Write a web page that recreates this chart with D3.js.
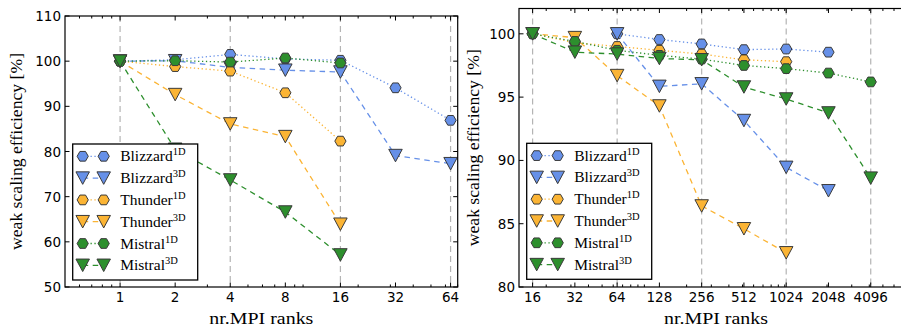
<!DOCTYPE html>
<html><head><meta charset="utf-8">
<script src="https://cdn.jsdelivr.net/npm/d3@7"></script>
<style>body{margin:0;background:#fff} svg{display:block} .serif{font-family:"Liberation Serif","DejaVu Serif",serif;}</style>
</head><body><svg id="c" width="901" height="327"></svg>
<script>
// ---------- data ----------
const leftBlizzardRanks = [1,2,4,8,16,32,64];
const leftOtherRanks    = [1,2,4,8,16];
const leftBlizzard1D = [100,100.3,101.5,100.5,100.2,94.1,86.9];
const leftBlizzard3D = [100,100.1,98.6,98.0,97.6,79.1,77.3];
const leftThunder1D  = [100,98.8,97.8,93.0,82.3];
const leftThunder3D  = [100,92.6,86.1,83.3,63.9];
const leftMistral1D  = [100,100.1,99.8,100.7,99.6];
const leftMistral3D  = [100,80.5,73.7,66.6,57.1];

const rightBlizzardRanks = [64,128,256,512,1024,2048];
const rightThunderRanks  = [16,32,64,128,256,512,1024];
const rightMistralRanks  = [16,32,64,128,256,512,1024,2048,4096];
const rightBlizzard1D = [100,99.55,99.2,98.75,98.8,98.55];
const rightBlizzard3D = [100,95.85,96.05,93.15,89.45,87.6];
const rightThunder1D  = [100,99.3,99.0,98.7,98.4,97.95,97.8];
const rightThunder3D  = [100,99.7,96.7,94.3,86.4,84.6,82.7];
const rightMistral1D  = [100,99.4,98.7,98.3,98.0,97.5,97.25,96.9,96.2];
const rightMistral3D  = [100,98.55,98.4,98.05,97.95,95.8,94.85,93.75,88.6];

const leftXTicks  = [1,2,4,8,16,32,64];
const leftGrid    = [1,4,16,64];
const leftYTicks  = [50,60,70,80,90,100,110];
const rightXTicks = [16,32,64,128,256,512,1024,2048,4096];
const rightGrid   = [16,64,256,1024,4096];
const rightYTicks = [80,85,90,95,100];

const seriesNames = ["Blizzard","Blizzard","Thunder","Thunder","Mistral","Mistral"];
const seriesDims  = ["1D","3D","1D","3D","1D","3D"];
const seriesColors = ["#6690e8","#6690e8","#fbb434","#fbb434","#2d8f2d","#2d8f2d"];

// ---------- helpers ----------
const svg = d3.select("#c");
const TICKFONT = "DejaVu Sans, sans-serif";

function hexPath(r){
  const pts=[];
  for(let k=0;k<6;k++){const a=k*Math.PI/3; pts.push([r*Math.cos(a), r*Math.sin(a)]);}
  return "M"+pts.map(p=>p[0].toFixed(2)+","+p[1].toFixed(2)).join("L")+"Z";
}
function triPath(w,h){
  return `M0,${h/2}L${-w/2},${-h/2}L${w/2},${-h/2}Z`;
}
const HEX = hexPath(5.6);
const TRI = triPath(13.5,12.5);

function minorTicks(domain){
  const out=[];
  for(let e=-2;e<5;e++){
    for(let m=1;m<10;m++){
      const v=m*Math.pow(10,e);
      if(v>domain[0]*1.0001 && v<domain[1]*1.0001){
        const l2=Math.log2(v);
        if(Math.abs(l2-Math.round(l2))>1e-9) out.push(v);
      }
    }
  }
  return out;
}

function panel(cfg){
  const {x0,x1,y0,y1,xdom,ydom,xticks,grid,yticks,series,legend,ylabX,xlabLen} = cfg;
  const x = d3.scaleLog().base(2).domain(xdom).range([x0,x1]);
  const y = d3.scaleLinear().domain(ydom).range([y1,y0]);
  const g = svg.append("g");
  const clipId = "clip"+Math.round(x0);
  svg.append("clipPath").attr("id",clipId).append("rect")
     .attr("x",x0).attr("y",y0).attr("width",x1-x0).attr("height",y1-y0);

  // grid
  g.append("g").selectAll("line").data(grid).join("line")
    .attr("x1",d=>x(d)).attr("x2",d=>x(d)).attr("y1",y0).attr("y2",y1)
    .attr("stroke","#b4b4b4").attr("stroke-width",1.2).attr("stroke-dasharray","6,4");

  // series
  const plot = g.append("g").attr("clip-path",`url(#${clipId})`);
  series.forEach((s,i)=>{
    const pts = s.xs.map((xv,j)=>[x(xv), y(s.ys[j])]);
    const dashed = seriesDims[i]==="3D";
    plot.append("path").attr("d", d3.line()(pts)).attr("fill","none")
      .attr("stroke",seriesColors[i]).attr("stroke-width",1.3)
      .attr("stroke-dasharray", dashed ? "5.5,4.5" : "1.3,2.6");
    plot.append("g").selectAll("path").data(pts).join("path")
      .attr("d", dashed ? TRI : HEX)
      .attr("transform",d=>`translate(${d[0]},${d[1]})`)
      .attr("fill",seriesColors[i]).attr("stroke","#3a3a3a").attr("stroke-width",1);
  });

  // frame
  g.append("rect").attr("x",x0).attr("y",y0).attr("width",x1-x0).attr("height",y1-y0)
    .attr("fill","none").attr("stroke","#000").attr("stroke-width",1.2);

  // ticks (inward, all sides)
  const tk = g.append("g").attr("stroke","#000").attr("stroke-width",1);
  xticks.forEach(t=>{
    tk.append("line").attr("x1",x(t)).attr("x2",x(t)).attr("y1",y1).attr("y2",y1-4.5);
    tk.append("line").attr("x1",x(t)).attr("x2",x(t)).attr("y1",y0).attr("y2",y0+4.5);
  });
  minorTicks(xdom).forEach(t=>{
    tk.append("line").attr("x1",x(t)).attr("x2",x(t)).attr("y1",y1).attr("y2",y1-2.5);
    tk.append("line").attr("x1",x(t)).attr("x2",x(t)).attr("y1",y0).attr("y2",y0+2.5);
  });
  yticks.forEach(t=>{
    tk.append("line").attr("x1",x0).attr("x2",x0+4.5).attr("y1",y(t)).attr("y2",y(t));
    tk.append("line").attr("x1",x1).attr("x2",x1-4.5).attr("y1",y(t)).attr("y2",y(t));
  });
  g.append("g").selectAll("text").data(xticks).join("text")
    .attr("x",d=>x(d)).attr("y",y1+14.5).attr("text-anchor","middle")
    .attr("font-family",TICKFONT).attr("font-size",13.5).text(d=>d);
  g.append("g").selectAll("text").data(yticks).join("text")
    .attr("x",x0-4).attr("y",d=>y(d)+5).attr("text-anchor","end")
    .attr("font-family",TICKFONT).attr("font-size",13.5).text(d=>d);

  // axis labels
  const xlab = g.append("text").attr("class","serif").attr("x",(x0+x1)/2).attr("y",323.5).attr("text-anchor","middle")
    .attr("font-size",16.5).text("nr.MPI ranks");
  if(xlabLen) xlab.attr("textLength",xlabLen).attr("lengthAdjust","spacingAndGlyphs");
  g.append("text").attr("class","serif").attr("transform",`translate(${ylabX},${(y0+y1)/2}) rotate(-90)`)
    .attr("text-anchor","middle").attr("font-size",16.5)
    .attr("textLength",197).attr("lengthAdjust","spacingAndGlyphs")
    .text("weak scaling efficiency [%]");

  // legend
  const L = g.append("g");
  L.append("rect").attr("x",legend.x).attr("y",legend.y).attr("width",125).attr("height",136)
    .attr("fill","#fff").attr("stroke","#000").attr("stroke-width",1.3);
  seriesNames.forEach((nm,i)=>{
    const ry = legend.y + 12.3 + i*21.8;
    const dashed = seriesDims[i]==="3D";
    const lx0 = legend.x+10, lx1 = legend.x+31;
    L.append("line").attr("x1",lx0).attr("x2",lx1).attr("y1",ry).attr("y2",ry)
      .attr("stroke",seriesColors[i]).attr("stroke-width",1.3)
      .attr("stroke-dasharray", dashed ? "5.5,4.5" : "1.3,2.6");
    [lx0,lx1].forEach(px=>{
      L.append("path").attr("d", dashed?TRI:HEX).attr("transform",`translate(${px},${ry})`)
        .attr("fill",seriesColors[i]).attr("stroke","#3a3a3a").attr("stroke-width",1);
    });
    const t = L.append("text").attr("class","serif").attr("x",legend.x+47.5).attr("y",ry+5)
      .attr("font-size",15.5);
    t.append("tspan").text(nm);
    t.append("tspan").attr("font-size",10.5).attr("dy",-6).text(seriesDims[i]);
  });
}

panel({
  x0:65, x1:457.7, y0:16, y1:287, xdom:[0.5,70], ydom:[50,110],
  xticks:leftXTicks, grid:leftGrid, yticks:leftYTicks, ylabX:22, xlabLen:104,
  legend:{x:72.7,y:144},
  series:[
    {xs:leftBlizzardRanks, ys:leftBlizzard1D},
    {xs:leftBlizzardRanks, ys:leftBlizzard3D},
    {xs:leftOtherRanks, ys:leftThunder1D},
    {xs:leftOtherRanks, ys:leftThunder3D},
    {xs:leftOtherRanks, ys:leftMistral1D},
    {xs:leftOtherRanks, ys:leftMistral3D}
  ]
});
panel({
  x0:519, x1:913, y0:8.5, y1:287, xdom:[12.8,8192], ydom:[80,102],
  xticks:rightXTicks, grid:rightGrid, yticks:rightYTicks, ylabX:479, xlabLen:104,
  legend:{x:526.7,y:143.3},
  series:[
    {xs:rightBlizzardRanks, ys:rightBlizzard1D},
    {xs:rightBlizzardRanks, ys:rightBlizzard3D},
    {xs:rightThunderRanks, ys:rightThunder1D},
    {xs:rightThunderRanks, ys:rightThunder3D},
    {xs:rightMistralRanks, ys:rightMistral1D},
    {xs:rightMistralRanks, ys:rightMistral3D}
  ]
});
</script></body></html>
